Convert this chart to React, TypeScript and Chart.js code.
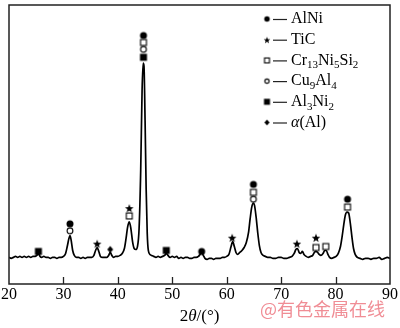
import { useEffect, useRef } from 'react';
import { Chart, registerables } from 'chart.js';
Chart.register(...registerables);

// XRD pattern (2θ in degrees, intensity in arbitrary units)
const twoTheta = [
  20.0, 20.4, 20.8, 21.2, 21.6, 22.0, 22.4, 22.8, 23.2, 23.6,
  24.0, 24.4, 24.8, 25.1, 25.4, 25.7, 26.0, 26.4, 26.8, 27.2,
  27.6, 28.0, 28.4, 28.8, 29.2, 29.6, 30.0, 30.4, 30.7, 31.0,
  31.2, 31.4, 31.7, 32.0, 32.4, 32.8, 33.2, 33.6, 34.0, 34.4,
  34.8, 35.2, 35.6, 35.9, 36.2, 36.5, 36.8, 37.2, 37.6, 38.0,
  38.3, 38.6, 38.9, 39.2, 39.6, 40.0, 40.4, 40.8, 41.2, 41.5,
  41.8, 42.1, 42.4, 42.7, 43.0, 43.3, 43.6, 43.9, 44.2, 44.45,
  44.65, 44.8, 45.0, 45.2, 45.4, 45.6, 45.9, 46.2, 46.6, 47.0,
  47.4, 47.8, 48.2, 48.6, 48.9, 49.2, 49.6, 50.0, 50.4, 50.8,
  51.2, 51.6, 52.0, 52.4, 52.8, 53.2, 53.6, 54.0, 54.4, 54.8,
  55.1, 55.4, 55.7, 56.0, 56.4, 56.8, 57.2, 57.6, 58.0, 58.4,
  58.8, 59.2, 59.6, 60.0, 60.4, 60.8, 61.1, 61.4, 61.7, 62.0,
  62.4, 62.8, 63.2, 63.6, 64.0, 64.3, 64.6, 64.9, 65.1, 65.4,
  65.7, 66.0, 66.3, 66.7, 67.1, 67.5, 68.0, 68.5, 69.0, 69.5,
  70.0, 70.5, 71.0, 71.5, 72.0, 72.4, 72.7, 73.0, 73.3, 73.6,
  73.9, 74.2, 74.6, 75.0, 75.4, 75.8, 76.1, 76.4, 76.7, 77.0,
  77.3, 77.7, 78.0, 78.3, 78.6, 78.9, 79.3, 79.7, 80.1, 80.5,
  80.9, 81.2, 81.5, 81.8, 82.1, 82.4, 82.7, 83.0, 83.3, 83.6,
  84.0, 84.5, 85.0, 85.5, 86.0, 86.5, 87.0, 87.5, 88.0, 88.5,
  89.0, 89.5, 90.0,
];
const intensity = [
  1, 0, 1, 2, 1, 2, 1, 2, 1, 2,
  1, 2, 2, 3, 5, 2, 1, 2, 1, 1,
  0, 1, 1, 0, 1, 1, 2, 5, 12, 20,
  23, 19, 8, 3, 1, 1, 0, 1, 0, 1,
  1, 1, 3, 8, 11, 7, 2, 1, 1, 1,
  3, 6, 3, 1, 2, 2, 3, 5, 10, 20,
  32, 37, 30, 17, 10, 9, 12, 30, 90, 170,
  198, 195, 140, 70, 25, 8, 4, 3, 2, 1,
  2, 1, 2, 3, 5, 3, 1, 2, 1, 2,
  0, 1, 0, 1, 1, 0, 0, 1, 1, 2,
  4, 6, 3, 0, -1, 0, 0, -1, 0, 0,
  0, 1, 1, 2, 4, 12, 17, 12, 6, 4,
  6, 8, 11, 16, 26, 40, 52, 56, 54, 42,
  26, 13, 6, 3, 2, 1, 1, 0, 0, 1,
  1, 0, 0, 1, 2, 5, 9, 10, 6, 5,
  7, 4, 2, 1, 2, 3, 6, 7, 6, 4,
  3, 5, 8, 8, 4, 1, 0, 1, 2, 5,
  12, 22, 34, 44, 47, 46, 36, 22, 10, 4,
  1, 0, -1, 0, 0, -1, 0, 0, 1, -1,
  0, 1, 0,
];

// Phase markers (2θ, marker height)
const alNiX = [31.2, 44.7, 55.4, 64.9, 82.2];
const alNiY = [35, 226, 7, 75, 60];
const tiCX = [36.2, 42.1, 61.0, 72.9, 76.4];
const tiCY = [15, 51, 21, 15, 21];
const crNiSiX = [42.1, 44.7, 64.9, 76.4, 78.2];
const crNiSiY = [43, 219, 67, 11, 12];
const crNiSiX2 = [82.2];
const crNiSiY2 = [52];
const cuAlX = [31.2, 44.7, 64.9];
const cuAlY = [28, 212, 60];
const al3Ni2X = [25.4, 44.7, 48.9];
const al3Ni2Y = [7, 204, 8];
const alphaAlX = [38.6];
const alphaAlY = [9];

const xTicks = [20, 30, 40, 50, 60, 70, 80, 90];

type Part = { t: string; sub?: boolean; it?: boolean };
const legendLabels: Part[][] = [
  [{ t: 'AlNi' }],
  [{ t: 'TiC' }],
  [{ t: 'Cr' }, { t: '13', sub: true }, { t: 'Ni' }, { t: '5', sub: true }, { t: 'Si' }, { t: '2', sub: true }],
  [{ t: 'Cu' }, { t: '9', sub: true }, { t: 'Al' }, { t: '4', sub: true }],
  [{ t: 'Al' }, { t: '3', sub: true }, { t: 'Ni' }, { t: '2', sub: true }],
  [{ t: 'α', it: true }, { t: '(Al)' }],
];
const legendKinds = ['dot', 'star', 'box', 'ring', 'square', 'diamond'];

function makeMarker(kind: string, s: number): HTMLCanvasElement {
  const size = Math.ceil(s) + 3;
  const c = document.createElement('canvas');
  c.width = size;
  c.height = size;
  const g = c.getContext('2d')!;
  const m = size / 2;
  const r = s / 2;
  g.fillStyle = '#000';
  g.strokeStyle = '#000';
  g.lineWidth = 1.1;
  if (kind === 'dot') {
    g.beginPath(); g.arc(m, m, r, 0, Math.PI * 2); g.fill();
  } else if (kind === 'ring') {
    g.beginPath(); g.arc(m, m, r - 0.6, 0, Math.PI * 2); g.stroke();
  } else if (kind === 'square') {
    g.fillRect(m - r, m - r, s, s);
  } else if (kind === 'box') {
    g.strokeRect(m - r + 0.55, m - r + 0.55, s - 1.1, s - 1.1);
  } else if (kind === 'star') {
    g.beginPath();
    for (let i = 0; i < 10; i++) {
      const a = -Math.PI / 2 + (i * Math.PI) / 5;
      const rr = i % 2 === 0 ? r : r * 0.42;
      const px = m + rr * Math.cos(a);
      const py = m + 0.6 + rr * Math.sin(a);
      if (i === 0) g.moveTo(px, py); else g.lineTo(px, py);
    }
    g.closePath(); g.fill();
  } else if (kind === 'diamond') {
    g.beginPath();
    g.moveTo(m, m - r); g.lineTo(m + r * 0.85, m); g.lineTo(m, m + r); g.lineTo(m - r * 0.85, m);
    g.closePath(); g.fill();
  }
  return c;
}

const serif = '"Liberation Serif", "Times New Roman", serif';

export default function App() {
  const ref = useRef<HTMLCanvasElement>(null);
  useEffect(() => {
    document.body.style.margin = '0';
    const canvas = ref.current!;
    const plotMarkers: Record<string, HTMLCanvasElement> = {
      dot: makeMarker('dot', 7),
      star: makeMarker('star', 9),
      box: makeMarker('box', 7),
      ring: makeMarker('ring', 7),
      square: makeMarker('square', 7),
      diamond: makeMarker('diamond', 7),
    };
    const legMarkers: Record<string, HTMLCanvasElement> = {
      dot: makeMarker('dot', 5.5),
      star: makeMarker('star', 7),
      box: makeMarker('box', 6),
      ring: makeMarker('ring', 5.5),
      square: makeMarker('square', 6),
      diamond: makeMarker('diamond', 6),
    };
    const pts = (xs: number[], ys: number[]) => xs.map((x, i) => ({ x, y: ys[i] }));
    const markerSet = (label: string, xs: number[], ys: number[], kind: string) => ({
      type: 'scatter' as const,
      label,
      data: pts(xs, ys),
      showLine: false,
      pointStyle: plotMarkers[kind],
      pointRadius: 4,
    });

    const decor = {
      id: 'decor',
      afterDraw(chart: any) {
        const { ctx, chartArea: a, scales } = chart;
        const xs = scales.x;
        ctx.save();
        // frame
        ctx.strokeStyle = '#222';
        ctx.lineWidth = 1.5;
        ctx.strokeRect(a.left, a.top, a.right - a.left, a.bottom - a.top);
        // inward ticks
        ctx.lineWidth = 1.3;
        xTicks.forEach((v) => {
          if (v === 20 || v === 90) return;
          const px = Math.round(xs.getPixelForValue(v)) + 0.5;
          ctx.beginPath();
          ctx.moveTo(px, a.bottom);
          ctx.lineTo(px, a.bottom - 7);
          ctx.stroke();
        });
        // axis title: 2θ/(°)
        ctx.fillStyle = '#000';
        ctx.textBaseline = 'middle';
        const tParts: Part[] = [{ t: '2' }, { t: 'θ', it: true }, { t: '/(°)' }];
        let tw = 0;
        tParts.forEach((p) => {
          ctx.font = `${p.it ? 'italic ' : ''}17px ${serif}`;
          tw += ctx.measureText(p.t).width;
        });
        let tx = (a.left + a.right) / 2 - tw / 2;
        tParts.forEach((p) => {
          ctx.font = `${p.it ? 'italic ' : ''}17px ${serif}`;
          ctx.fillText(p.t, tx, 317);
          tx += ctx.measureText(p.t).width;
        });
        // legend
        legendLabels.forEach((parts, i) => {
          const y = 19 + i * 20.7;
          const mk = legMarkers[legendKinds[i]];
          ctx.drawImage(mk, 267 - mk.width / 2, y - mk.height / 2);
          ctx.lineWidth = 1.2;
          ctx.beginPath();
          ctx.moveTo(273, y + 0.5);
          ctx.lineTo(287, y + 0.5);
          ctx.stroke();
          let lx = 291;
          parts.forEach((p) => {
            if (p.sub) {
              ctx.font = `11px ${serif}`;
              ctx.fillText(p.t, lx, y + 5);
            } else {
              ctx.font = `${p.it ? 'italic ' : ''}16px ${serif}`;
              ctx.fillText(p.t, lx, y);
            }
            lx += ctx.measureText(p.t).width;
          });
        });
        // watermark
        ctx.font = '18px "Noto Sans CJK SC", sans-serif';
        ctx.fillStyle = 'rgba(236, 112, 122, 0.8)';
        ctx.textAlign = 'left';
        ctx.fillText('@有色金属在线', 260, 309);
        ctx.restore();
      },
    };

    const chart = new Chart(canvas, {
      type: 'line',
      data: {
        datasets: [
          {
            label: 'XRD',
            data: pts(twoTheta, intensity),
            borderColor: '#000',
            borderWidth: 1.7,
            pointRadius: 0,
            cubicInterpolationMode: 'monotone',
            fill: false,
          },
          markerSet('AlNi', alNiX, alNiY, 'dot'),
          markerSet('TiC', tiCX, tiCY, 'star'),
          markerSet('Cr13Ni5Si2', crNiSiX, crNiSiY, 'box'),
          markerSet('Cr13Ni5Si2 (82°)', crNiSiX2, crNiSiY2, 'box'),
          markerSet('Cu9Al4', cuAlX, cuAlY, 'ring'),
          markerSet('Al3Ni2', al3Ni2X, al3Ni2Y, 'square'),
          markerSet('α(Al)', alphaAlX, alphaAlY, 'diamond'),
        ] as any,
      },
      options: {
        responsive: false,
        animation: false,
        devicePixelRatio: 1,
        layout: { padding: { left: 9, right: 10, top: 1, bottom: 0 } },
        plugins: { legend: { display: false }, tooltip: { enabled: false } },
        scales: {
          x: {
            type: 'linear',
            min: 20,
            max: 90,
            afterFit: (s: any) => { s.height = 44; },
            afterBuildTicks: (s: any) => { s.ticks = xTicks.map((v) => ({ value: v })); },
            grid: { display: false, drawTicks: false },
            border: { display: false },
            ticks: {
              padding: 1,
              color: '#000',
              font: { family: serif, size: 16 },
              maxRotation: 0,
            },
          },
          y: {
            display: false,
            min: -26,
            max: 257,
          },
        },
      },
      plugins: [decor],
    });
    return () => chart.destroy();
  }, []);
  return (
    <div style={{ width: 400, height: 328, background: '#fff' }}>
      <canvas ref={ref} width={400} height={328} style={{ display: 'block' }} />
    </div>
  );
}
